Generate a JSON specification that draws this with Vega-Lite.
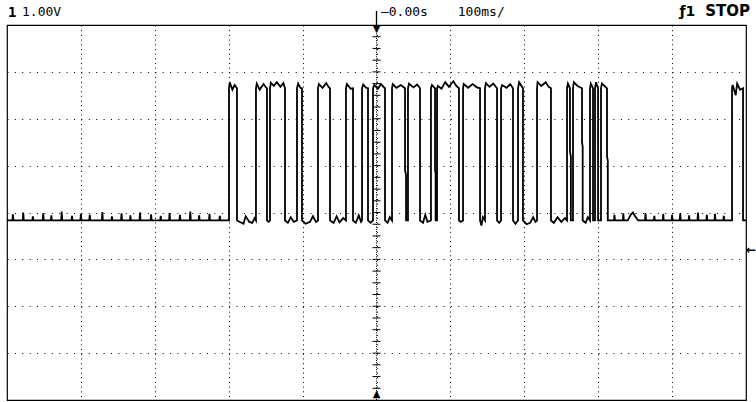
{
  "$schema": "https://vega.github.io/schema/vega-lite/v6.json",
  "width": 739,
  "height": 375,
  "autosize": {"type": "none"},
  "padding": {"left": 7, "top": 25, "right": 10, "bottom": 2},
  "background": "white",
  "config": {
    "view": {"stroke": "black", "strokeWidth": 1.2},
    "font": "DejaVu Sans Mono"
  },
  "datasets": {
    "trace": [
      {"t":-500,"v":-0.17},
      {"t":-492.7,"v":-0.17},{"t":-492,"v":-0.04},{"t":-491.3,"v":-0.17},
      {"t":-478.7,"v":-0.17},{"t":-478,"v":0.0},{"t":-477.3,"v":-0.17},
      {"t":-465.7,"v":-0.17},{"t":-465,"v":-0.08},{"t":-464.3,"v":-0.17},
      {"t":-451.7,"v":-0.17},{"t":-451,"v":-0.02},{"t":-450.3,"v":-0.17},
      {"t":-440.7,"v":-0.17},{"t":-440,"v":-0.06},{"t":-439.3,"v":-0.17},
      {"t":-426.7,"v":-0.17},{"t":-426,"v":0.02},{"t":-425.3,"v":-0.17},
      {"t":-412.7,"v":-0.17},{"t":-412,"v":-0.07},{"t":-411.3,"v":-0.17},
      {"t":-400.7,"v":-0.17},{"t":-400,"v":-0.03},{"t":-399.3,"v":-0.17},
      {"t":-388.7,"v":-0.17},{"t":-388,"v":-0.05},{"t":-387.3,"v":-0.17},
      {"t":-371.7,"v":-0.17},{"t":-371,"v":0.01},{"t":-370.3,"v":-0.17},
      {"t":-358.7,"v":-0.17},{"t":-358,"v":-0.08},{"t":-357.3,"v":-0.17},
      {"t":-345.7,"v":-0.17},{"t":-345,"v":-0.02},{"t":-344.3,"v":-0.17},
      {"t":-333.7,"v":-0.17},{"t":-333,"v":-0.06},{"t":-332.3,"v":-0.17},
      {"t":-320.7,"v":-0.17},{"t":-320,"v":0.0},{"t":-319.3,"v":-0.17},
      {"t":-305.7,"v":-0.17},{"t":-305,"v":-0.04},{"t":-304.3,"v":-0.17},
      {"t":-292.7,"v":-0.17},{"t":-292,"v":-0.07},{"t":-291.3,"v":-0.17},
      {"t":-280.7,"v":-0.17},{"t":-280,"v":-0.01},{"t":-279.3,"v":-0.17},
      {"t":-266.7,"v":-0.17},{"t":-266,"v":-0.05},{"t":-265.3,"v":-0.17},
      {"t":-252.7,"v":-0.17},{"t":-252,"v":0.02},{"t":-251.3,"v":-0.17},
      {"t":-240.7,"v":-0.17},{"t":-240,"v":-0.06},{"t":-239.3,"v":-0.17},
      {"t":-226.7,"v":-0.17},{"t":-226,"v":-0.03},{"t":-225.3,"v":-0.17},
      {"t":-212.7,"v":-0.17},{"t":-212,"v":-0.07},{"t":-211.3,"v":-0.17},
      {"t":-199.6,"v":-0.17},{"t":-199.6,"v":2.65},
      {"t":-198.6,"v":2.78},{"t":-195,"v":2.62},{"t":-192,"v":2.72},{"t":-188.8,"v":2.65},{"t":-188.8,"v":-0.17},
      {"t":-180,"v":-0.24},{"t":-177,"v":-0.08},{"t":-172,"v":-0.2},{"t":-168,"v":-0.22},{"t":-165,"v":-0.12},{"t":-163.1,"v":-0.17},{"t":-163.1,"v":2.65},
      {"t":-162,"v":2.75},{"t":-158,"v":2.62},{"t":-153,"v":2.74},{"t":-150,"v":2.68},{"t":-148.2,"v":2.65},{"t":-148.2,"v":-0.17},
      {"t":-146,"v":-0.2},{"t":-144.1,"v":-0.17},{"t":-144.1,"v":2.65},
      {"t":-143,"v":2.77},{"t":-139,"v":2.7},{"t":-135,"v":2.78},{"t":-130,"v":2.68},{"t":-126,"v":2.76},{"t":-123.8,"v":2.65},{"t":-123.8,"v":-0.17},
      {"t":-120,"v":-0.22},{"t":-116,"v":-0.1},{"t":-112,"v":-0.2},{"t":-107.6,"v":-0.17},{"t":-107.6,"v":2.65},
      {"t":-106,"v":2.75},{"t":-103,"v":2.66},{"t":-100.8,"v":2.65},{"t":-100.8,"v":-0.17},
      {"t":-96,"v":-0.24},{"t":-90,"v":-0.2},{"t":-86,"v":-0.08},{"t":-82,"v":-0.2},{"t":-79.2,"v":-0.17},{"t":-79.2,"v":2.65},
      {"t":-78,"v":2.74},{"t":-73,"v":2.66},{"t":-68,"v":2.76},{"t":-65,"v":2.68},{"t":-62.9,"v":2.65},{"t":-62.9,"v":-0.17},
      {"t":-58,"v":-0.22},{"t":-54,"v":-0.08},{"t":-50,"v":-0.21},{"t":-45,"v":-0.12},{"t":-41.3,"v":-0.17},{"t":-41.3,"v":2.65},
      {"t":-40,"v":2.74},{"t":-35,"v":2.64},{"t":-31.8,"v":2.65},{"t":-31.8,"v":-0.17},
      {"t":-28,"v":-0.22},{"t":-24,"v":-0.06},{"t":-21,"v":-0.2},{"t":-19.6,"v":-0.17},{"t":-19.6,"v":2.65},
      {"t":-18,"v":2.73},{"t":-14,"v":2.66},{"t":-11.5,"v":2.65},{"t":-11.5,"v":-0.17},
      {"t":-8,"v":-0.22},{"t":-4.7,"v":-0.17},{"t":-4.7,"v":2.65},
      {"t":-3,"v":2.72},{"t":2,"v":2.64},{"t":6,"v":2.74},{"t":11.5,"v":2.65},{"t":11.5,"v":-0.17},
      {"t":15,"v":-0.22},{"t":18,"v":-0.1},{"t":21,"v":-0.17},{"t":21,"v":2.65},
      {"t":22,"v":2.74},{"t":27,"v":2.66},{"t":33,"v":2.72},{"t":38.6,"v":2.65},{"t":38.6,"v":0.9},{"t":40,"v":0.8},{"t":40,"v":-0.17},
      {"t":42.6,"v":-0.17},{"t":42.6,"v":2.65},
      {"t":44,"v":2.75},{"t":50,"v":2.67},{"t":55,"v":2.73},{"t":58.9,"v":2.65},{"t":58.9,"v":-0.17},
      {"t":63,"v":-0.22},{"t":66,"v":-0.05},{"t":69,"v":-0.2},{"t":73.7,"v":-0.17},{"t":73.7,"v":2.65},
      {"t":75,"v":2.72},{"t":79.2,"v":2.65},{"t":79.2,"v":0.9},{"t":80,"v":0.85},{"t":80,"v":-0.17},
      {"t":81.9,"v":-0.17},{"t":81.9,"v":2.65},
      {"t":83,"v":2.7},{"t":88,"v":2.64},{"t":93,"v":2.78},{"t":98,"v":2.68},{"t":104,"v":2.8},{"t":108,"v":2.7},{"t":111.6,"v":2.65},{"t":111.6,"v":-0.17},
      {"t":114,"v":-0.2},{"t":117.1,"v":-0.17},{"t":117.1,"v":2.65},
      {"t":118,"v":2.74},{"t":124,"v":2.66},{"t":130,"v":2.74},{"t":136,"v":2.67},{"t":140.1,"v":2.65},{"t":140.1,"v":-0.17},
      {"t":142,"v":-0.28},{"t":144,"v":-0.1},{"t":146.8,"v":-0.17},{"t":146.8,"v":2.65},
      {"t":148,"v":2.76},{"t":153,"v":2.68},{"t":158,"v":2.75},{"t":163.1,"v":2.65},{"t":163.1,"v":-0.17},
      {"t":166,"v":-0.22},{"t":168.5,"v":-0.17},{"t":168.5,"v":2.65},
      {"t":170,"v":2.72},{"t":176,"v":2.66},{"t":181,"v":2.74},{"t":184.7,"v":2.65},{"t":184.7,"v":-0.17},
      {"t":188,"v":-0.24},{"t":191.5,"v":-0.17},{"t":191.5,"v":2.65},
      {"t":193,"v":2.78},{"t":198.2,"v":2.65},{"t":198.2,"v":-0.17},
      {"t":203,"v":-0.25},{"t":208,"v":-0.22},{"t":212,"v":-0.1},{"t":215,"v":-0.2},{"t":217.2,"v":-0.17},{"t":217.2,"v":2.65},
      {"t":218,"v":2.78},{"t":223,"v":2.7},{"t":229,"v":2.78},{"t":233,"v":2.68},{"t":236.1,"v":2.65},{"t":236.1,"v":-0.17},
      {"t":240,"v":-0.22},{"t":245,"v":-0.1},{"t":250,"v":-0.2},{"t":255,"v":-0.12},{"t":257.8,"v":-0.17},{"t":257.8,"v":2.65},
      {"t":259,"v":2.75},{"t":261.8,"v":2.65},{"t":261.8,"v":1.3},{"t":263,"v":1.2},{"t":263,"v":-0.17},
      {"t":265.9,"v":-0.17},{"t":265.9,"v":2.65},
      {"t":267,"v":2.78},{"t":272,"v":2.7},{"t":278.1,"v":2.65},{"t":278.1,"v":1.5},{"t":279,"v":1.4},{"t":279,"v":-0.17},
      {"t":283,"v":-0.22},{"t":286,"v":-0.1},{"t":288.9,"v":-0.17},{"t":288.9,"v":2.65},
      {"t":290,"v":2.75},{"t":293,"v":2.65},{"t":293,"v":-0.17},
      {"t":295.7,"v":-0.17},{"t":295.7,"v":2.65},
      {"t":297,"v":2.78},{"t":299.8,"v":2.65},{"t":299.8,"v":-0.17},
      {"t":303.8,"v":-0.17},{"t":303.8,"v":2.65},
      {"t":305,"v":2.75},{"t":311.9,"v":2.65},{"t":311.9,"v":1.2},{"t":313,"v":1.1},{"t":313,"v":-0.17},
      {"t":321.3,"v":-0.17},{"t":322,"v":-0.05},{"t":322.7,"v":-0.17},
      {"t":333.3,"v":-0.17},{"t":334,"v":-0.02},{"t":334.7,"v":-0.17},
      {"t":340,"v":-0.17},{"t":344,"v":-0.05},{"t":347,"v":0.0},{"t":350,"v":-0.08},{"t":354,"v":-0.17},
      {"t":363.3,"v":-0.17},{"t":364,"v":-0.01},{"t":364.7,"v":-0.17},
      {"t":375.3,"v":-0.17},{"t":376,"v":-0.07},{"t":376.7,"v":-0.17},
      {"t":387.3,"v":-0.17},{"t":388,"v":-0.03},{"t":388.7,"v":-0.17},
      {"t":399.3,"v":-0.17},{"t":400,"v":-0.05},{"t":400.7,"v":-0.17},
      {"t":410.3,"v":-0.17},{"t":411,"v":-0.02},{"t":411.7,"v":-0.17},
      {"t":422.3,"v":-0.17},{"t":423,"v":-0.06},{"t":423.7,"v":-0.17},
      {"t":434.3,"v":-0.17},{"t":435,"v":0.0},{"t":435.7,"v":-0.17},
      {"t":446.3,"v":-0.17},{"t":447,"v":-0.05},{"t":447.7,"v":-0.17},
      {"t":457.3,"v":-0.17},{"t":458,"v":-0.03},{"t":458.7,"v":-0.17},
      {"t":469.3,"v":-0.17},{"t":470,"v":-0.07},{"t":470.7,"v":-0.17},
      {"t":481.1,"v":-0.17},{"t":481.1,"v":2.65},
      {"t":482,"v":2.72},{"t":486,"v":2.5},{"t":488,"v":2.75},{"t":492,"v":2.62},{"t":496,"v":2.65},{"t":496,"v":-0.17},{"t":500,"v":-0.17}
    ]
  },
  "layer": [
    {
      "data": {"name": "trace"},
      "mark": {"type": "line", "color": "black", "strokeWidth": 1.8, "interpolate": "linear"},
      "encoding": {
        "x": {"field": "t", "type": "quantitative", "scale": {"domain": [-500, 500], "nice": false, "zero": false},
          "axis": {"values": [-400,-300,-200,-100,0,100,200,300,400], "grid": true, "gridColor": "black", "gridOpacity": 1, "gridWidth": 1, "gridDash": [1, 3.69], "labels": false, "ticks": false, "domain": false, "title": null}},
        "y": {"field": "v", "type": "quantitative", "scale": {"domain": [-4, 4], "nice": false, "zero": false},
          "axis": {"values": [-3,-2,-1,0,1,2,3], "grid": true, "gridColor": "black", "gridOpacity": 1, "gridWidth": 1, "gridDash": [1, 6.39], "labels": false, "ticks": false, "domain": false, "title": null}},
        "order": {"value": null}
      }
    },
    {
      "data": {"values": [
        {"c":0,"g":-3.75},{"c":0,"g":-3.5},{"c":0,"g":-3.25},{"c":0,"g":-3},{"c":0,"g":-2.75},{"c":0,"g":-2.5},{"c":0,"g":-2.25},{"c":0,"g":-2},
        {"c":0,"g":-1.75},{"c":0,"g":-1.5},{"c":0,"g":-1.25},{"c":0,"g":-1},{"c":0,"g":-0.75},{"c":0,"g":-0.5},{"c":0,"g":-0.25},{"c":0,"g":0},
        {"c":0,"g":0.25},{"c":0,"g":0.5},{"c":0,"g":0.75},{"c":0,"g":1},{"c":0,"g":1.25},{"c":0,"g":1.5},{"c":0,"g":1.75},{"c":0,"g":2},
        {"c":0,"g":2.25},{"c":0,"g":2.5},{"c":0,"g":2.75},{"c":0,"g":3},{"c":0,"g":3.25},{"c":0,"g":3.5},{"c":0,"g":3.75}
      ]},
      "mark": {"type": "tick", "orient": "horizontal", "color": "black", "size": 8, "thickness": 1, "opacity": 1},
      "encoding": {
        "x": {"field": "c", "type": "quantitative"},
        "y": {"field": "g", "type": "quantitative"}
      }
    },
    {
      "data": {"values": [{"c": 0, "lo": -4, "hi": 4}]},
      "mark": {"type": "rule", "color": "black", "strokeWidth": 1, "strokeDash": [1, 1.3]},
      "encoding": {"x": {"field": "c", "type": "quantitative"}, "y": {"field": "lo", "type": "quantitative"}, "y2": {"field": "hi"}}
    },
    {
      "data": {"values": [{"c": 0, "lo": 4, "hi": 4.3}]},
      "mark": {"type": "rule", "color": "black", "strokeWidth": 1.3, "clip": false},
      "encoding": {"x": {"field": "c", "type": "quantitative"}, "y": {"field": "lo", "type": "quantitative"}, "y2": {"field": "hi"}}
    },
    {
      "data": {"values": [{"t": 0, "v": 4, "s": "▼"}]},
      "mark": {"type": "text", "fontSize": 10, "baseline": "top", "align": "center", "dy": -1, "font": "DejaVu Sans"},
      "encoding": {"x": {"field": "t", "type": "quantitative"}, "y": {"field": "v", "type": "quantitative"}, "text": {"field": "s"}}
    },
    {
      "data": {"values": [{"t": 0, "v": -4, "s": "▲"}]},
      "mark": {"type": "text", "fontSize": 10, "baseline": "bottom", "align": "center", "dy": -1, "font": "DejaVu Sans"},
      "encoding": {"x": {"field": "t", "type": "quantitative"}, "y": {"field": "v", "type": "quantitative"}, "text": {"field": "s"}}
    },
    {
      "data": {"values": [{"t": 500, "v": -0.8, "s": "←"}]},
      "mark": {"type": "text", "fontSize": 12, "fontWeight": "bold", "baseline": "middle", "align": "left", "dx": 0, "font": "DejaVu Sans"},
      "encoding": {"x": {"field": "t", "type": "quantitative"}, "y": {"field": "v", "type": "quantitative"}, "text": {"field": "s"}}
    },
    {
      "data": {"values": [{"t": -498.7, "v": 4, "s": "1"}]},
      "mark": {"type": "text", "fontSize": 14, "fontWeight": "bold", "baseline": "alphabetic", "align": "left", "dy": -8, "font": "DejaVu Sans Mono"},
      "encoding": {"x": {"field": "t", "type": "quantitative"}, "y": {"field": "v", "type": "quantitative"}, "text": {"field": "s"}}
    },
    {
      "data": {"values": [
        {"t": -479.7, "v": 4, "s": "1.00V"},
        {"t": 6, "v": 4, "s": "—0.00s"},
        {"t": 110, "v": 4, "s": "100ms/"}
      ]},
      "mark": {"type": "text", "fontSize": 13, "baseline": "alphabetic", "align": "left", "dy": -9, "font": "DejaVu Sans Mono"},
      "encoding": {
        "x": {"field": "t", "type": "quantitative"},
        "y": {"field": "v", "type": "quantitative"},
        "text": {"field": "s"}
      }
    },
    {
      "data": {"values": [{"t": 410, "v": 4, "s": "ƒ1"}]},
      "mark": {"type": "text", "fontSize": 14, "fontWeight": "bold", "baseline": "alphabetic", "align": "left", "dy": -9, "font": "DejaVu Sans"},
      "encoding": {"x": {"field": "t", "type": "quantitative"}, "y": {"field": "v", "type": "quantitative"}, "text": {"field": "s"}}
    },
    {
      "data": {"values": [{"t": 500, "v": 4, "s": "STOP"}]},
      "mark": {"type": "text", "fontSize": 15, "fontWeight": "bold", "baseline": "alphabetic", "align": "right", "dx": 4, "dy": -9, "font": "DejaVu Sans"},
      "encoding": {"x": {"field": "t", "type": "quantitative"}, "y": {"field": "v", "type": "quantitative"}, "text": {"field": "s"}}
    }
  ]
}
